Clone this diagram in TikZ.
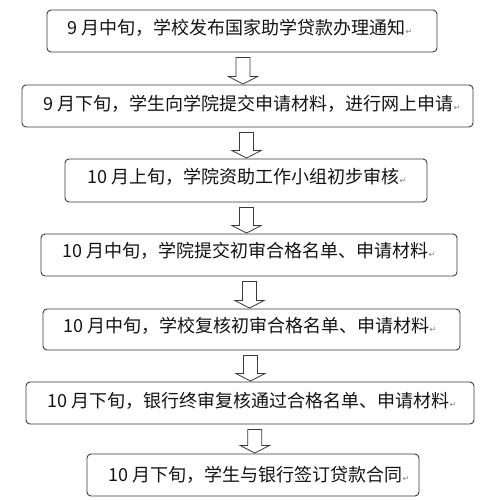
\documentclass[tikz,border=0pt]{standalone}
\usepackage{fontspec}
\setmainfont{Noto Sans CJK SC}
\newfontfamily\retfont{DejaVu Sans}
\usetikzlibrary{calc}
\definecolor{boxline}{HTML}{3A3A3A}
\definecolor{txt}{HTML}{141414}
\tikzset{
  x=1pt, y=-1pt,
  stepbox/.style={draw=boxline, line width=0.9pt, rounded corners=4pt, inner sep=0pt, fill=white},
  steptext/.style={anchor=west, inner sep=0pt, text=txt, font=\fontsize{18}{21}\selectfont},
  barrow/.style={draw=boxline, line width=0.8pt, fill=white, line join=miter},
}
\newcommand\retmark{\hspace{0.5pt}{\retfont\fontsize{8}{8}\selectfont\textcolor{gray}{↵}}}
% #1 from node, #2 to node, #3 canvas x of arrow axis
\newcommand\flowarrow[3]{%
  \draw[barrow] let \p1=(#1.south), \p2=(#2.north) in
    (#3-7pt,\y1-5pt) -- (#3+7pt,\y1-5pt) -- (#3+7pt,\y2+8pt) -- (#3+14.5pt,\y2+8pt)
    -- (#3,\y2+0.5pt) -- (#3-14.5pt,\y2+8pt) -- (#3-7pt,\y2+8pt) -- cycle;}
\begin{document}
\begin{tikzpicture}
\useasboundingbox (0,0) rectangle (480,500);
\fill[white] (0,0) rectangle (480,500);
% boxes
\node[stepbox, minimum width=390pt, minimum height=42pt] (b1) at (242,31) {};
\node[stepbox, minimum width=451pt, minimum height=42pt] (b2) at (247.5,106) {};
\node[stepbox, minimum width=362pt, minimum height=43pt] (b3) at (246,180.5) {};
\node[stepbox, minimum width=416pt, minimum height=42pt] (b4) at (249,255) {};
\node[stepbox, minimum width=417pt, minimum height=41pt] (b5) at (251.5,329.5) {};
\node[stepbox, minimum width=448pt, minimum height=42pt] (b6) at (250,403) {};
\node[stepbox, minimum width=332pt, minimum height=42pt] (b7) at (253,475) {};
% texts
\node[steptext] (t1) at (67,28) {9 月中旬，学校发布国家助学贷款办理通知\retmark};
\node[steptext] (t2) at (43,104) {9 月下旬，学生向学院提交申请材料，进行网上申请\retmark};
\node[steptext] (t3) at (87,177) {10 月上旬，学院资助工作小组初步审核\retmark};
\node[steptext] (t4) at (62,251) {10 月中旬，学院提交初审合格名单、申请材料\retmark};
\node[steptext] (t5) at (63,326) {10 月中旬，学校复核初审合格名单、申请材料\retmark};
\node[steptext] (t6) at (47,401) {10 月下旬，银行终审复核通过合格名单、申请材料\retmark};
\node[steptext] (t7) at (108,475) {10 月下旬，学生与银行签订贷款合同\retmark};
% arrows
\flowarrow{b1}{b2}{243pt}
\flowarrow{b2}{b3}{246.5pt}
\flowarrow{b3}{b4}{246.5pt}
\flowarrow{b4}{b5}{249.5pt}
\flowarrow{b5}{b6}{250.5pt}
\flowarrow{b6}{b7}{254.8pt}
\end{tikzpicture}
\end{document}
